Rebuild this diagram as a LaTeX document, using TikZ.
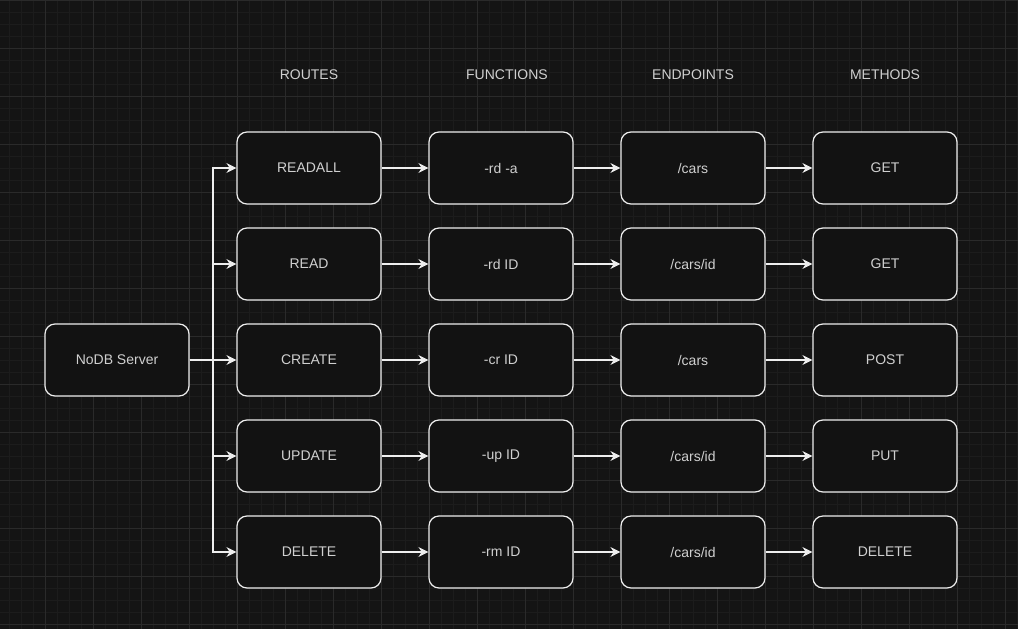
\documentclass[tikz,border=0pt]{standalone}
\usepackage{fontspec}
\setmainfont{Liberation Sans}
\usepackage{xcolor}
\usepackage{tikz}
\usetikzlibrary{positioning}
\usetikzlibrary{arrows.meta}
\definecolor{bgcol}{HTML}{141414}
\definecolor{minorcol}{HTML}{1C1C1C}
\definecolor{majorcol}{HTML}{2A2A2A}
\definecolor{boxfill}{HTML}{121212}
\definecolor{linecol}{HTML}{EEEEEE}
\definecolor{txtcol}{HTML}{D0D0D0}

\begin{document}
\begin{tikzpicture}
               [x=0.75pt, y=-0.75pt,
                box/.style = {draw=linecol, fill=boxfill, line width=0.9pt, rounded corners=7.5pt, minimum width=108pt, minimum height=54pt, text=txtcol, font=\fontsize{10.5}{12}\selectfont},
                head/.style = {text=txtcol, font=\fontsize{10.5}{12}\selectfont},
                arr/.style = {draw=linecol, line width=0.85pt, -{Stealth[length=7.5pt, width=7.5pt, inset=2.5pt]}}]
                \useasboundingbox (0,0) rectangle (1018,629);
                % Background and grid
                \fill[bgcol] (0,0) rectangle (1018,629);
                \foreach \gx in {9,21,...,1017} \draw[minorcol, line width=0.75pt] (\gx,0) -- (\gx,629);
                \foreach \gy in {0,12,...,628} \draw[minorcol, line width=0.75pt] (0,\gy) -- (1018,\gy);
                \foreach \gx in {45,93,...,1017} \draw[majorcol, line width=0.75pt] (\gx,0) -- (\gx,629);
                \foreach \gy in {0,48,...,628} \draw[majorcol, line width=0.75pt] (0,\gy) -- (1018,\gy);
                % Column headings
                \node[head] (hroutes) at (309,75) {ROUTES};
                \node[head] (hfunctions) at (507,75) {FUNCTIONS};
                \node[head] (hendpoints) at (693,75) {ENDPOINTS};
                \node[head] (hmethods) at (885,75) {METHODS};
                % Server
                \node[box] (server) at (117,360) {NoDB Server};
                \coordinate (trunk) at (213,360);
                % Routes
                \node[box] (readall) at (309,168) {READALL};
                \node[box] (read) at (309,264) {READ};
                \node[box] (create) at (309,360) {CREATE};
                \node[box] (update) at (309,456) {UPDATE};
                \node[box] (delete) at (309,552) {DELETE};
                % Functions
                \node[box] (frdall) at (501,168) {-rd -a};
                \node[box] (frd) at (501,264) {-rd ID};
                \node[box] (fcr) at (501,360) {-cr ID};
                \node[box] (fup) at (501,456) {-up ID};
                \node[box] (frm) at (501,552) {-rm ID};
                % Endpoints
                \node[box] (ecars) at (693,168) {/cars};
                \node[box] (ecarsid) at (693,264) {/cars/id};
                \node[box] (ecarspost) at (693,360) {/cars};
                \node[box] (ecarsput) at (693,456) {/cars/id};
                \node[box] (ecarsdel) at (693,552) {/cars/id};
                % Methods
                \node[box] (mget) at (885,168) {GET};
                \node[box] (mgetid) at (885,264) {GET};
                \node[box] (mpost) at (885,360) {POST};
                \node[box] (mput) at (885,456) {PUT};
                \node[box] (mdelete) at (885,552) {DELETE};
                % Lines from server
                \draw[arr] (server) -- (trunk) |- (readall);
                \draw[arr] (server) -- (trunk) |- (read);
                \draw[arr] (server) -- (create);
                \draw[arr] (server) -- (trunk) |- (update);
                \draw[arr] (server) -- (trunk) |- (delete);
                % Lines along rows
                \draw[arr] (readall) -- (frdall);
                \draw[arr] (read) -- (frd);
                \draw[arr] (create) -- (fcr);
                \draw[arr] (update) -- (fup);
                \draw[arr] (delete) -- (frm);
                \draw[arr] (frdall) -- (ecars);
                \draw[arr] (frd) -- (ecarsid);
                \draw[arr] (fcr) -- (ecarspost);
                \draw[arr] (fup) -- (ecarsput);
                \draw[arr] (frm) -- (ecarsdel);
                \draw[arr] (ecars) -- (mget);
                \draw[arr] (ecarsid) -- (mgetid);
                \draw[arr] (ecarspost) -- (mpost);
                \draw[arr] (ecarsput) -- (mput);
                \draw[arr] (ecarsdel) -- (mdelete);
            \end{tikzpicture}
\end{document}
